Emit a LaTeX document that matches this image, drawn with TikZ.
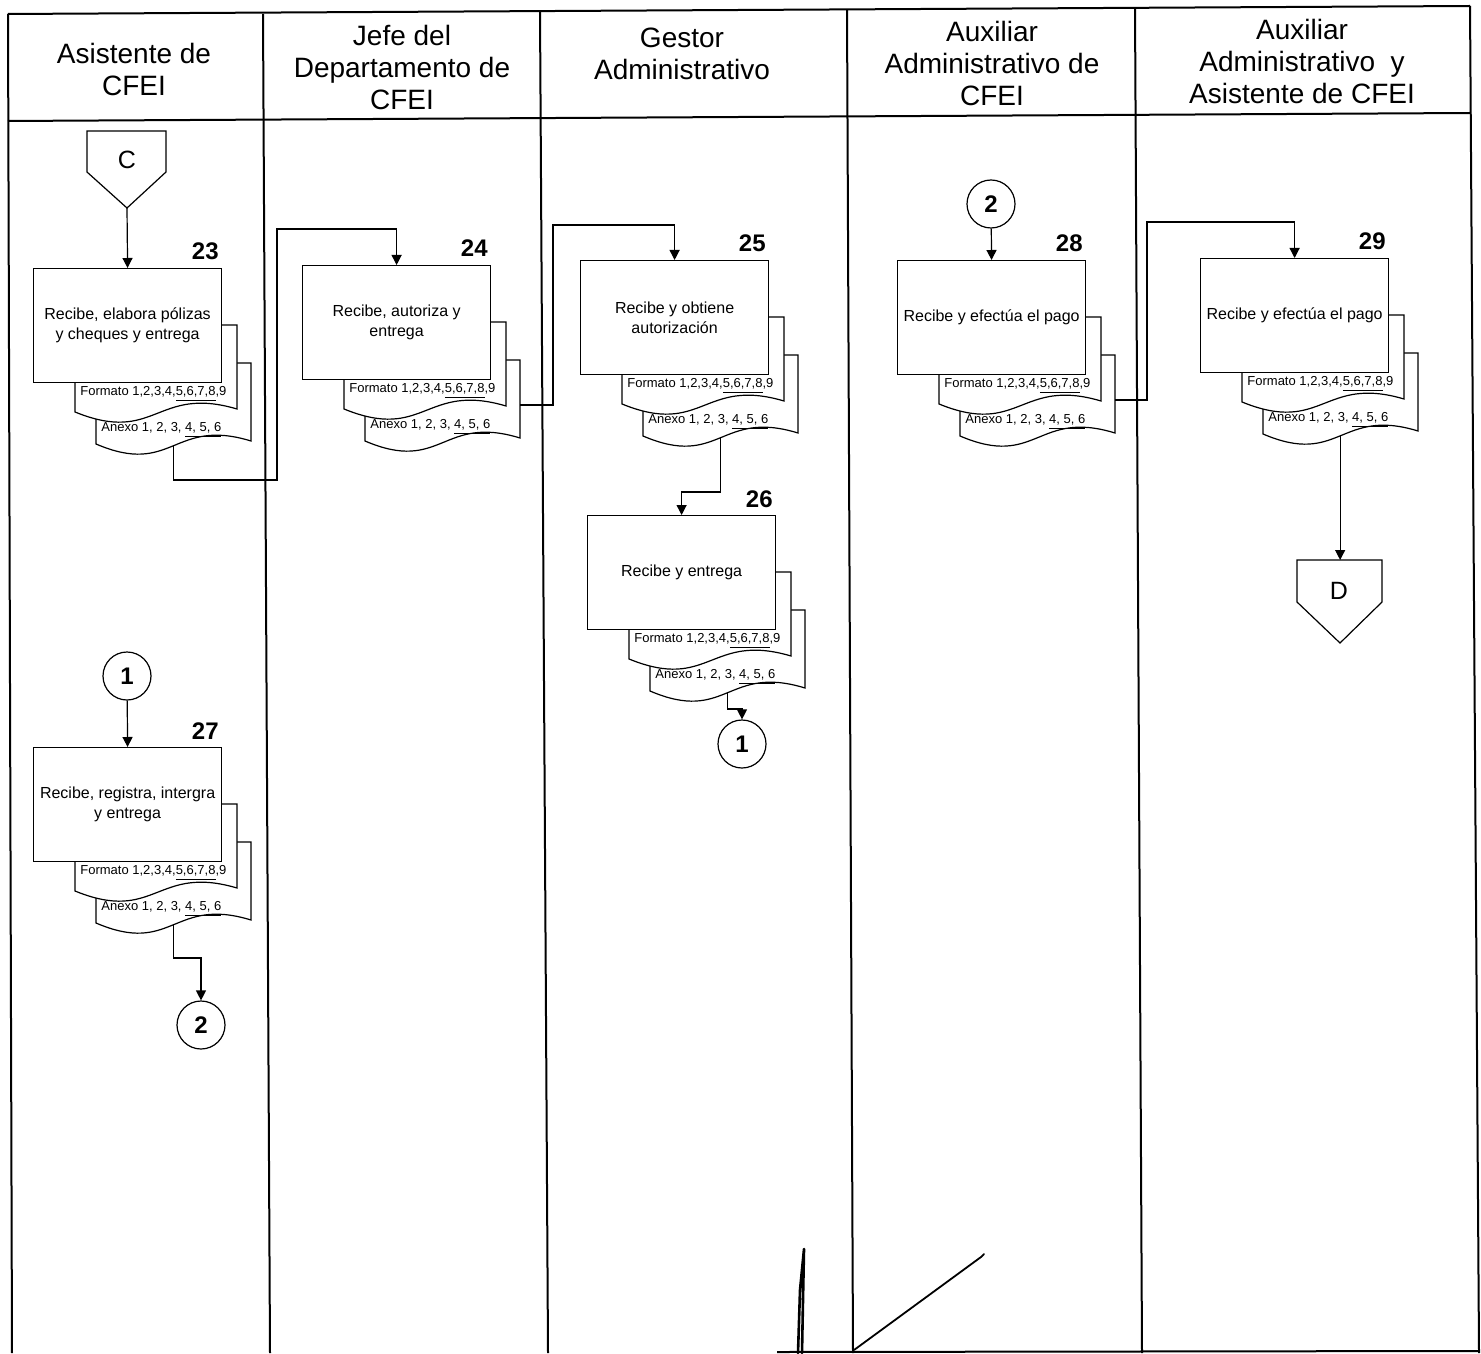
\documentclass[tikz,border=0pt]{standalone}
\usepackage{fontspec}
\setmainfont{Liberation Sans}
\usetikzlibrary{arrows.meta}

\tikzset{
  lane/.style={line width=1pt},
  shp/.style={draw, line width=0.6pt, fill=white},
  arr/.style={line width=0.6pt, -{Triangle[width=5pt,length=5pt]}},
  hdr/.style={align=center, font=\fontsize{14}{16}\selectfont, inner sep=0pt},
  proc/.style={draw, line width=0.6pt, fill=white, minimum width=94pt, minimum height=57pt,
    anchor=north west, inner sep=1pt, align=center, font=\fontsize{8}{10}\selectfont},
  num/.style={font=\bfseries\fontsize{12}{12}\selectfont, anchor=base east, inner sep=0pt},
  doctxt/.style={font=\fontsize{6.5}{7}\selectfont, anchor=west, inner sep=0pt},
  circ/.style={draw, circle, line width=0.6pt, fill=white, minimum size=24pt, inner sep=0pt,
    font=\bfseries\fontsize{12}{12}\selectfont},
  pgtxt/.style={font=\fontsize{12.5}{12.5}\selectfont, inner sep=0pt},
}

% process step: box with two stacked documents behind it
% #1 name, #2 left x, #3 top y, #4 text, #5 step number
\newcommand\procstep[5]{%
  % rear document (Anexo)
  \draw[shp] (#2+218,#3+95) -- (#2+218,#3+173)
     .. controls (#2+140,#3+149) and (#2+140,#3+209) .. node[pos=0.5,coordinate] (#1-a) {}
     (#2+63,#3+176) -- (#2+63,#3+95) -- cycle;
  \coordinate (#1-r) at (#2+218,#3+140);
  % middle document (Formato)
  \draw[shp] (#2+204,#3+57) -- (#2+204,#3+141)
     .. controls (#2+123,#3+117) and (#2+123,#3+177) .. (#2+42,#3+144)
     -- (#2+42,#3+57) -- cycle;
  % front box
  \node[proc] (#1) at (#2,#3) {#4};
  \node[num] (#1-n) at (#2+186,#3-8) {#5};
  \node[doctxt] (#1-f) at (#2+47,#3+126) {Formato 1,2,3,4,\underline{5,6,7,8},9};
  \node[doctxt] (#1-x) at (#2+68,#3+162) {Anexo 1, 2, 3, \underline{4, 5, 6}};
}

\begin{document}
\begin{tikzpicture}[x=0.5pt,y=-0.5pt]
\useasboundingbox (0,0) rectangle (1481,1353);

% swimlane frame
\draw[lane] (8,14) -- (1470,6);
\draw[lane] (8,121) -- (1470,113);
\draw[lane] (8,14) -- (12,1353);
\draw[lane] (263,14) -- (270,1353);
\draw[lane] (540,12) -- (548,1353);
\draw[lane] (847,10) -- (853,1353);
\draw[lane] (1135,8) -- (1142,1353);
\draw[lane] (1470,6) -- (1479,1353);
\draw[lane] (777,1352) -- (1479,1351);

% lane headings
\node[hdr] (h1) at (134,69) {Asistente de\\CFEI};
\node[hdr] (h2) at (402,67) {Jefe del\\Departamento de\\CFEI};
\node[hdr] (h3) at (682,54) {Gestor\\Administrativo};
\node[hdr] (h4) at (992,63) {Auxiliar\\Administrativo de\\CFEI};
\node[hdr] (h5) at (1302,61) {Auxiliar\\Administrativo\ \ y\\Asistente de CFEI};

% incoming off-page connector C
\draw[shp] (87,131) -- (166,131) -- (166,172) -- (127,208) -- (87,172) -- cycle;
\node[pgtxt] (offC) at (127,160) {C};
\coordinate (offC-tip) at (127,208);

% steps
\procstep{b23}{33}{268}{Recibe, elabora pólizas\\y cheques y entrega}{23}
\procstep{b24}{302}{265}{Recibe, autoriza y\\entrega}{24}
\procstep{b25}{580}{260}{Recibe y obtiene\\autorización}{25}
\procstep{b26}{587}{515}{Recibe y entrega}{26}
\procstep{b27}{33}{747}{Recibe, registra, intergra\\y entrega}{27}
\procstep{b28}{897}{260}{Recibe y efectúa el pago}{28}
\procstep{b29}{1200}{258}{Recibe y efectúa el pago}{29}

% on-page connectors
\node[circ] (c1b) at (742,744) {1};
\node[circ] (c1a) at (127,676) {1};
\node[circ] (c2a) at (201,1025) {2};
\node[circ] (c2b) at (991,204) {2};

% outgoing off-page connector D
\draw[shp] (1297,560) -- (1382,560) -- (1382,602) -- (1340,643) -- (1297,602) -- cycle;
\node[pgtxt] (offD) at (1339,591) {D};
\coordinate (offD-top) at (1339,560);

% flow
\draw[arr] (offC-tip) -- (b23.north);
\draw[arr] (b23-a) -- (b23-a |- 0,480) -| (277,229) -| (b24.north);
\draw[arr] (b24-r) -| (553,225) -| (b25.north);
\draw[arr] (b25-a) -- (b25-a |- 0,492) -| (b26.north);
\draw[arr] (b26-a) -- (b26-a |- 0,709) -| (c1b.north);
\draw[arr] (c1a) -- (b27.north);
\draw[arr] (b27-a) -- (b27-a |- 0,958) -| (c2a.north);
\draw[arr] (c2b) -- (b28.north);
\draw[arr] (b28-r) -| (1147,222) -| (b29.north);
\draw[arr] (b29-a) -- (b29-a |- offD-top);

% handwritten initials at the foot of the sheet
\draw[line width=1.3pt, line cap=round, line join=round]
  (798,1353) -- (800,1290) -- (804,1249) -- (803,1300) -- (802,1353);
\draw[line width=0.9pt, line cap=round, line join=round]
  (854,1350) -- (981,1257) -- (984,1254);
\end{tikzpicture}
\end{document}
